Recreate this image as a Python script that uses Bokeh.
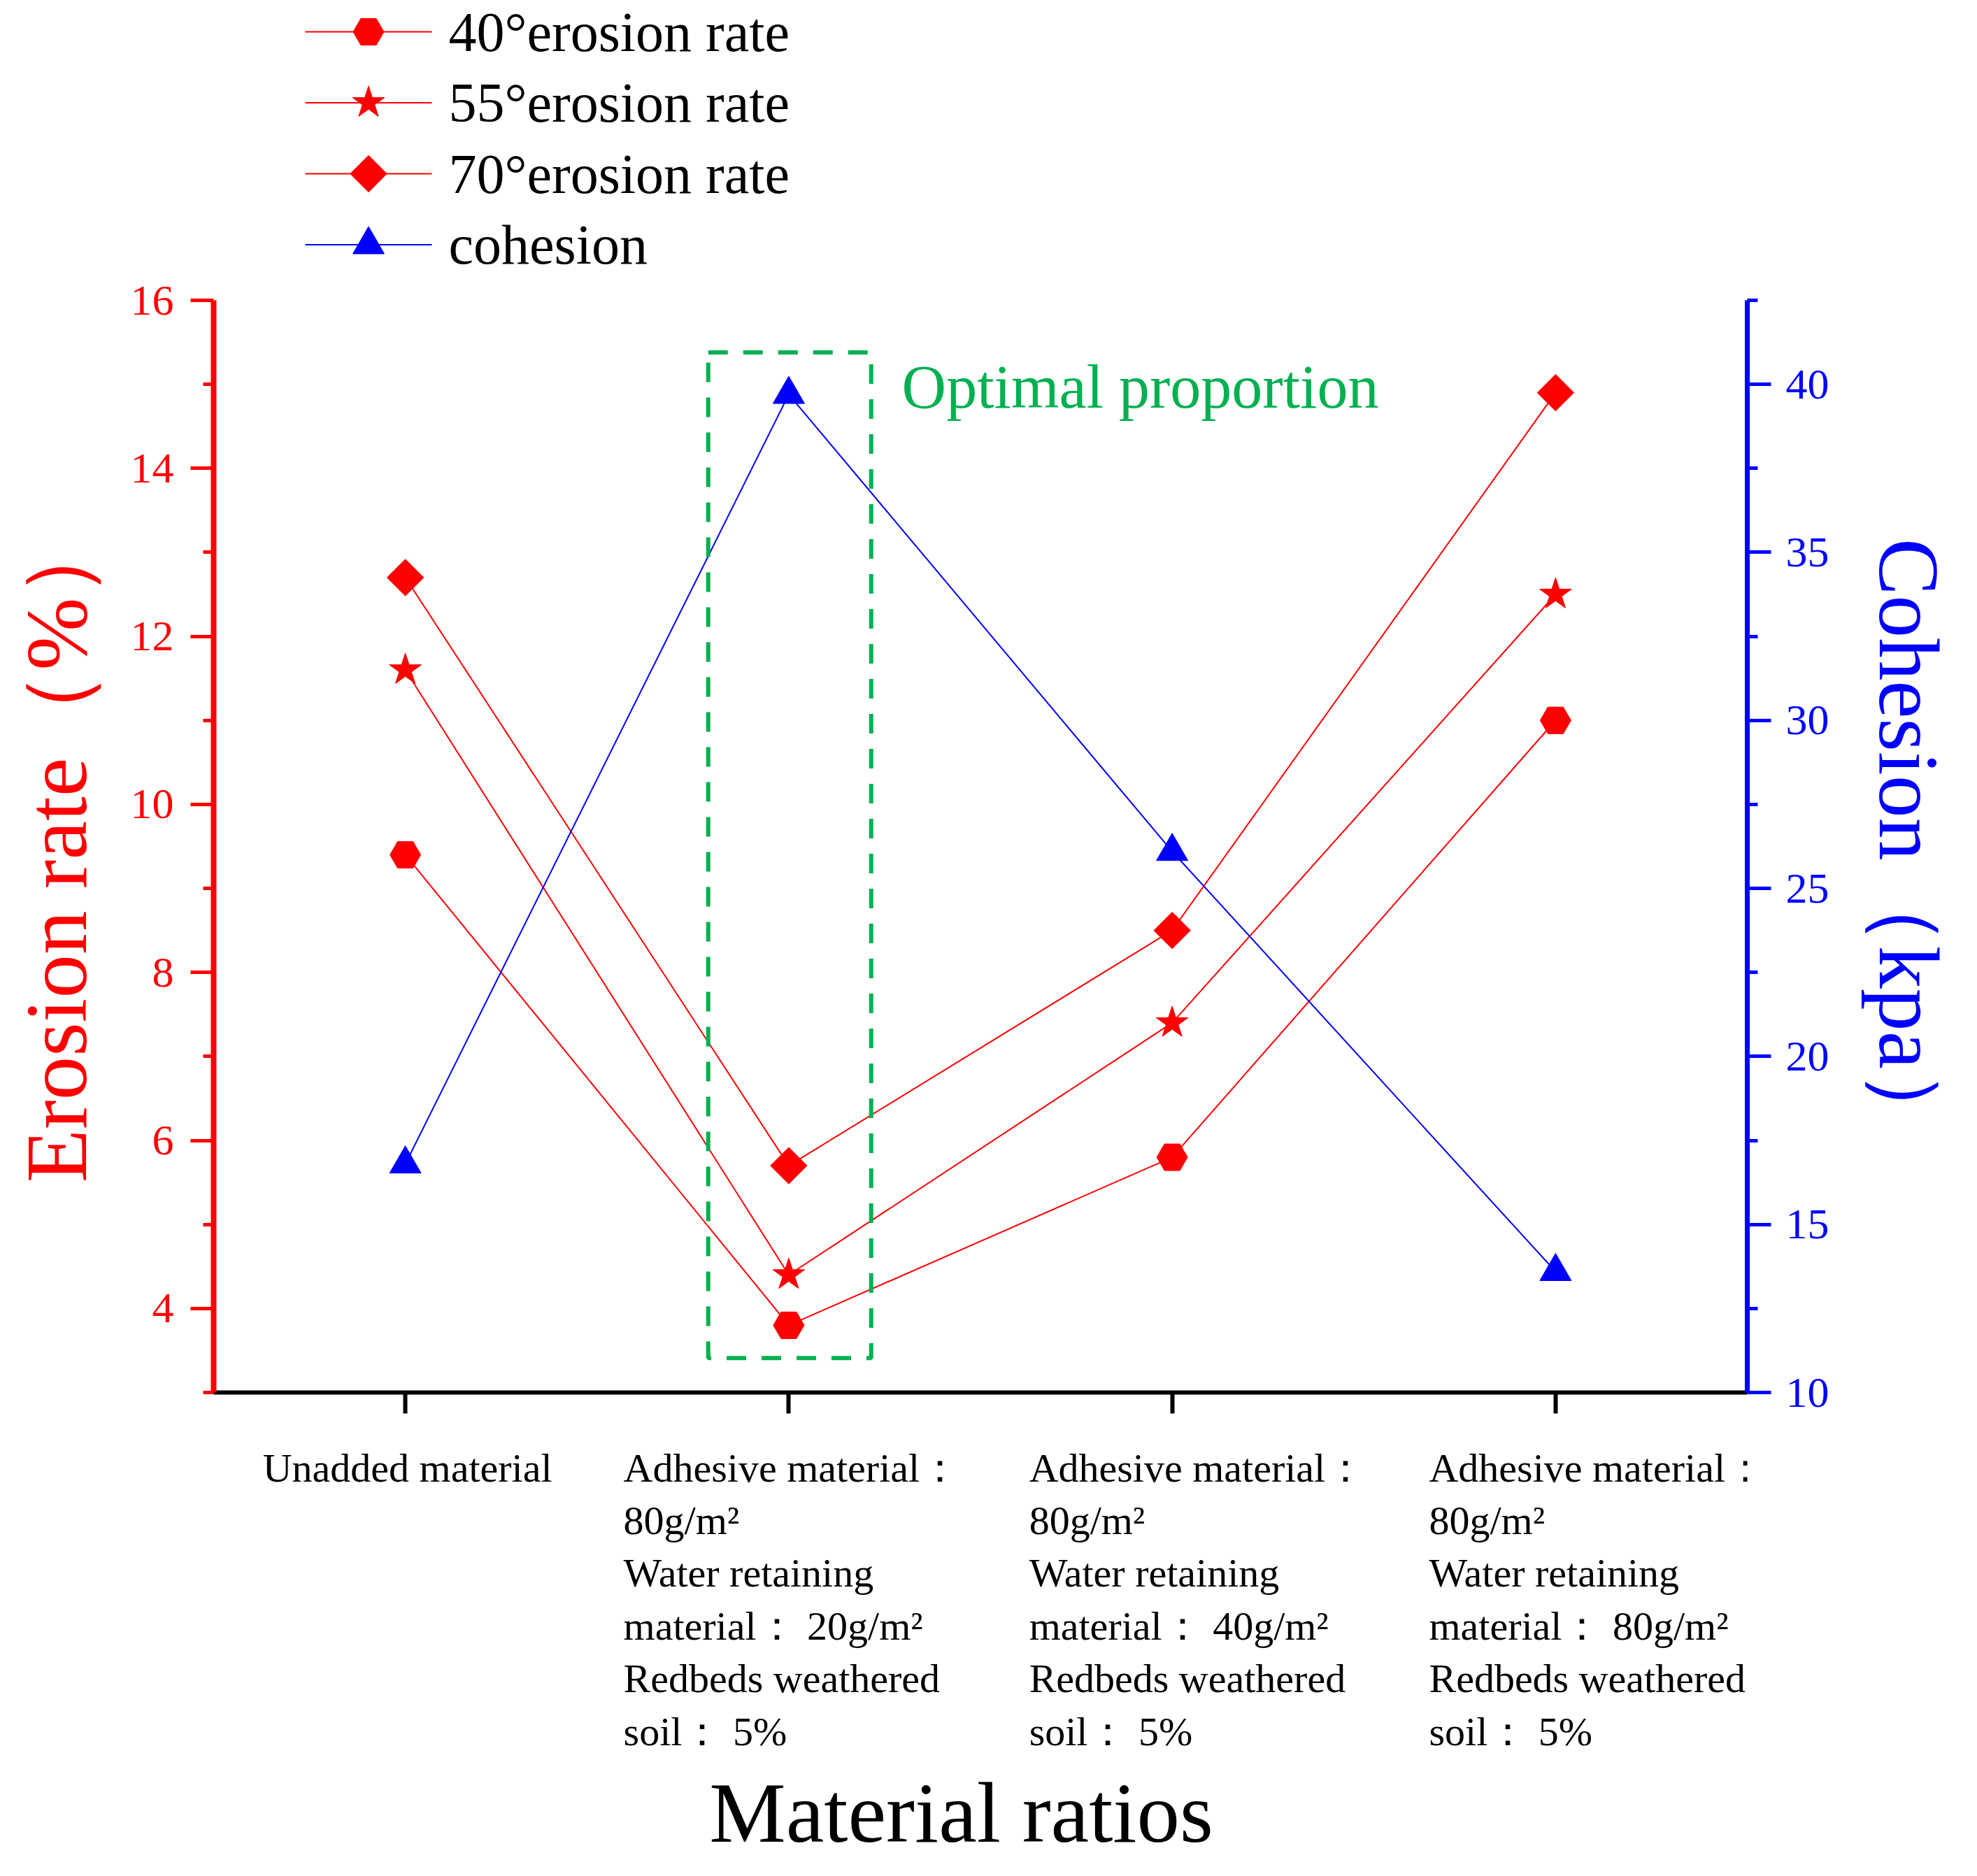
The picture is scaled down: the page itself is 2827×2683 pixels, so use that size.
import math
from bokeh.plotting import figure
from bokeh.layouts import column
from bokeh.models import (Range1d, LinearAxis, FixedTicker, BoxAnnotation, Label)
from bokeh.core.properties import value
from bokeh.embed import file_html
from bokeh.resources import INLINE

# ---------------- data ----------------
x_pos = [1, 2, 3, 4]
category_labels = [
    "Unadded  material",
    "Adhesive  material：\n80g/m²\nWater  retaining\nmaterial： 20g/m²\nRedbeds  weathered\nsoil： 5%",
    "Adhesive  material：\n80g/m²\nWater  retaining\nmaterial： 40g/m²\nRedbeds  weathered\nsoil： 5%",
    "Adhesive  material：\n80g/m²\nWater  retaining\nmaterial： 80g/m²\nRedbeds  weathered\nsoil： 5%",
]
series_names = ["40°erosion rate", "55°erosion rate", "70°erosion rate", "cohesion"]
erosion_40 = [9.4, 3.8, 5.8, 11.0]
erosion_55 = [11.6, 4.4, 7.4, 12.5]
erosion_70 = [12.7, 5.7, 8.5, 14.9]
cohesion = [16.8, 39.7, 26.1, 13.6]
left_major = [4, 6, 8, 10, 12, 14, 16]
left_minor = [3, 5, 7, 9, 11, 13, 15]
right_major = [10, 15, 20, 25, 30, 35, 40]
right_minor = [12.5, 17.5, 22.5, 27.5, 32.5, 37.5, 42.5]

# ---------------- style ----------------
RED = "#FF0000"
BLUE = "#0000FF"
GREEN = "#00B050"
FONT = "Liberation Serif"
W = 2811
TOP_H = 394
MAIN_H = 1642
BOT_H = 2667 - TOP_H - MAIN_H
BL, BR = 305, 313
label_offsets = [-0.372, -0.431, -0.373, -0.330]
MARKERS = [dict(marker="hex", size=44, angle=0),
           dict(marker="star", size=48, angle=0),
           dict(marker="square", size=37, angle=math.pi / 4),
           dict(marker="triangle", size=45, angle=0)]
SERIES_COLORS = [RED, RED, RED, BLUE]
# legend layout (pixels inside the legend strip)
LEG_X0, LEG_X1, LEG_TX = 131, 312, 336
LEG_Y0, LEG_DY = 45, 101.5

# ---------------- main figure ----------------
p = figure(width=W, height=MAIN_H, output_backend="svg", toolbar_location=None,
           x_range=Range1d(0.5, 4.5), y_range=Range1d(3, 16),
           min_border_left=BL, min_border_right=BR, min_border_top=35,
           min_border_bottom=45, y_axis_label="Erosion rate（%）")
p.outline_line_color = None
p.grid.visible = False
p.extra_y_ranges = {"coh": Range1d(10, 42.5)}

xa = p.xaxis[0]
xa.ticker = FixedTicker(ticks=x_pos, minor_ticks=[])
xa.major_label_overrides = {i: "" for i in x_pos}
xa.major_label_text_font_size = "1px"
xa.major_label_standoff = 0
xa.axis_line_color = "black"
xa.axis_line_width = 6
xa.major_tick_line_color = "black"
xa.major_tick_line_width = 6
xa.major_tick_out = 30
xa.major_tick_in = 0
xa.minor_tick_line_color = None

ya = p.yaxis[0]
ya.ticker = FixedTicker(ticks=left_major, minor_ticks=left_minor)
ya.axis_line_color = RED
ya.axis_line_width = 8
ya.major_tick_line_color = RED
ya.major_tick_line_width = 5
ya.major_tick_out = 33
ya.major_tick_in = 0
ya.minor_tick_line_color = RED
ya.minor_tick_line_width = 5
ya.minor_tick_out = 15
ya.minor_tick_in = 0
ya.major_label_text_font = FONT
ya.major_label_text_font_size = "62px"
ya.major_label_text_color = RED
ya.major_label_standoff = 24
ya.axis_label_text_font = FONT
ya.axis_label_text_font_size = "125px"
ya.axis_label_text_font_style = "normal"
ya.axis_label_text_color = RED
ya.axis_label_standoff = 34

ra = LinearAxis(y_range_name="coh", axis_label="Cohesion（kpa）")
ra.ticker = FixedTicker(ticks=right_major, minor_ticks=right_minor)
ra.axis_line_color = BLUE
ra.axis_line_width = 7
ra.major_tick_line_color = BLUE
ra.major_tick_line_width = 5
ra.major_tick_out = 34
ra.major_tick_in = 0
ra.minor_tick_line_color = BLUE
ra.minor_tick_line_width = 5
ra.minor_tick_out = 15
ra.minor_tick_in = 0
ra.major_label_text_font = FONT
ra.major_label_text_font_size = "62px"
ra.major_label_text_color = BLUE
ra.major_label_standoff = 21
ra.axis_label_text_font = FONT
ra.axis_label_text_font_size = "122px"
ra.axis_label_text_font_style = "normal"
ra.axis_label_text_color = BLUE
ra.axis_label_standoff = 43
p.add_layout(ra, "right")

box = BoxAnnotation(left=1.79, right=2.215, bottom=3.41, top=15.38,
                    fill_alpha=0, line_color=GREEN, line_alpha=1.0,
                    line_width=6, line_dash="28 22")
p.add_layout(box)
p.add_layout(Label(x=2.295, y=14.97, text="Optimal proportion",
                   text_font=FONT, text_font_size="88px", text_color=GREEN,
                   text_baseline="alphabetic"))

series = [erosion_40, erosion_55, erosion_70]
for vals, mk in zip(series, MARKERS[:3]):
    p.line(x_pos, vals, line_color=RED, line_width=2)
    p.scatter(x_pos, vals, color=RED, **mk)
p.line(x_pos, cohesion, line_color=BLUE, line_width=2, y_range_name="coh")
p.scatter(x_pos, cohesion, color=BLUE, y_range_name="coh", **MARKERS[3])

# ---------------- legend strip (top) ----------------
top = figure(width=W, height=TOP_H, output_backend="svg", toolbar_location=None,
             x_range=Range1d(0, W - BL - BR), y_range=Range1d(TOP_H, 0),
             min_border_left=BL, min_border_right=BR, min_border_top=0,
             min_border_bottom=0, x_axis_location=None, y_axis_location=None)
top.outline_line_color = None
top.grid.visible = False
for i, (name, mk, col) in enumerate(zip(series_names, MARKERS, SERIES_COLORS)):
    yy = LEG_Y0 + i * LEG_DY
    top.segment(x0=[LEG_X0], y0=[yy], x1=[LEG_X1], y1=[yy], line_color=col,
                line_width=2)
    top.scatter([(LEG_X0 + LEG_X1) / 2], [yy], color=col, **mk)
    top.text(x=[LEG_TX], y=[yy], text=[name], text_font=value(FONT),
             text_font_size="80px", text_color="black", text_align="left",
             text_baseline="middle")

# ---------------- category labels strip (bottom) ----------------
bot = figure(width=W, height=BOT_H, output_backend="svg", toolbar_location=None,
             x_range=p.x_range, y_range=Range1d(BOT_H, 0),
             min_border_left=BL, min_border_right=BR, min_border_top=0,
             min_border_bottom=0, x_axis_location=None, y_axis_location=None)
bot.outline_line_color = None
bot.grid.visible = False
bot.text(x=[xi + off for xi, off in zip(x_pos, label_offsets)],
         y=[30] * len(x_pos), text=category_labels,
         text_font=value(FONT), text_font_size="58px", text_color="black",
         text_align="left", text_baseline="top", text_line_height=1.16)
bot.text(x=[2.45], y=[556], text=["Material ratios"], text_font=value(FONT),
         text_font_size="123px", text_color="black", text_align="center",
         text_baseline="alphabetic")

layout = column(top, p, bot, spacing=0)
open("out.html", "w").write(file_html(layout, INLINE))
